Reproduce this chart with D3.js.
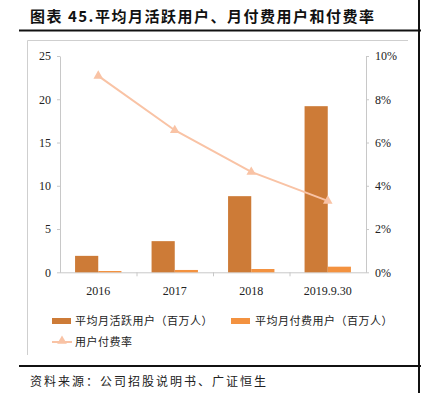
<!DOCTYPE html>
<html>
<head>
<meta charset="utf-8">
<script src="https://cdn.jsdelivr.net/npm/d3@7"></script>
<style>
  body { margin: 0; background: #fff; }
  svg { display: block; }
  .axis text { font-family: "Liberation Serif", "Times New Roman", serif; font-size: 12px; fill: #222; }
  .axis path, .axis line { stroke: #c8c8c8; }
  .cjk { font-family: "Noto Sans CJK SC", sans-serif; }
</style>
</head>
<body>
<div id="chart"></div>
<script>
// data
var categories = ["2016", "2017", "2018", "2019.9.30"];
var activeUsers = [1.9, 3.6, 8.8, 19.2];      // 平均月活跃用户（百万人）
var payingUsers = [0.15, 0.27, 0.38, 0.65];   // 平均月付费用户（百万人）
var payRate = [0.0908, 0.0657, 0.0464, 0.033]; // 用户付费率
var leftTicks = [0, 5, 10, 15, 20, 25];
var rightTicks = [0, 0.02, 0.04, 0.06, 0.08, 0.10];

var W = 422, H = 393;
var darkColor = "#cd7b37",
  lightColor = "#f39240",
  lineColor = "#f9c3a5";

var svg = d3.select("#chart").append("svg")
  .attr("width", W)
  .attr("height", H);

// title + rules
svg.append("text")
  .attr("class", "cjk")
  .attr("x", 30)
  .attr("y", 22)
  .attr("font-size", 15)
  .attr("font-weight", "bold")
  .attr("letter-spacing", 1.5)
  .attr("fill", "#111")
  .text("图表 45.平均月活跃用户、月付费用户和付费率");

svg.append("line").attr("x1", 19).attr("x2", 421).attr("y1", 30.5).attr("y2", 30.5)
  .attr("stroke", "#111").attr("stroke-width", 2);
svg.append("line").attr("x1", 19).attr("x2", 421).attr("y1", 366).attr("y2", 366)
  .attr("stroke", "#111").attr("stroke-width", 2);
svg.append("line").attr("x1", 419).attr("x2", 419).attr("y1", 0).attr("y2", H)
  .attr("stroke", "#111").attr("stroke-width", 2);

// chart frame
svg.append("path")
  .attr("d", "M27.5,355 V40.5 H408")
  .attr("fill", "none")
  .attr("stroke", "#cfcfcf");

var plot = { left: 60, right: 366, top: 56, bottom: 272.3 };

var x = d3.scaleBand()
  .domain(categories)
  .range([plot.left, plot.right]);

var x1 = d3.scaleBand()
  .domain(["active", "paying"])
  .range([0, x.bandwidth()])
  .paddingOuter(0.65)
  .paddingInner(0);

var yL = d3.scaleLinear().domain([0, 25]).range([plot.bottom, plot.top]);
var yR = d3.scaleLinear().domain([0, 0.10]).range([plot.bottom, plot.top]);

// axes
svg.append("g")
  .attr("class", "axis")
  .attr("transform", "translate(" + plot.left + ",0)")
  .call(d3.axisLeft(yL).tickValues(leftTicks).tickSize(3).tickSizeOuter(0).tickPadding(6));

svg.append("g")
  .attr("class", "axis")
  .attr("transform", "translate(" + plot.right + ",0)")
  .call(d3.axisRight(yR).tickValues(rightTicks).tickFormat(d3.format(".0%")).tickSize(3).tickSizeOuter(0).tickPadding(6));

var xAxis = d3.axisBottom(x).tickSize(0).tickPadding(14);
var gX = svg.append("g")
  .attr("class", "axis")
  .attr("transform", "translate(0," + plot.bottom + ")")
  .call(xAxis);
gX.select(".domain").attr("d", "M" + plot.left + ",0.5H" + plot.right);

// tick marks between categories
gX.selectAll(".sep")
  .data(categories.slice(1))
  .enter()
  .append("line")
  .attr("x1", function(d) { return x(d) + 0.5; })
  .attr("x2", function(d) { return x(d) + 0.5; })
  .attr("y1", 0)
  .attr("y2", 4)
  .attr("stroke", "#c8c8c8");

// bars
var groups = svg.selectAll(".grp")
  .data(categories)
  .enter()
  .append("g")
  .attr("transform", function(d) { return "translate(" + x(d) + ",0)"; });

groups.append("rect")
  .attr("x", x1("active"))
  .attr("y", function(d, i) { return yL(activeUsers[i]); })
  .attr("width", x1.bandwidth())
  .attr("height", function(d, i) { return plot.bottom - yL(activeUsers[i]); })
  .attr("fill", darkColor);

groups.append("rect")
  .attr("x", x1("paying"))
  .attr("y", function(d, i) { return yL(payingUsers[i]); })
  .attr("width", x1.bandwidth())
  .attr("height", function(d, i) { return plot.bottom - yL(payingUsers[i]); })
  .attr("fill", lightColor);

// pay rate line
var cx = function(d, i) { return x(categories[i]) + x.bandwidth() / 2; };
var line = d3.line()
  .x(cx)
  .y(function(d) { return yR(d); });

svg.append("path")
  .datum(payRate)
  .attr("d", line)
  .attr("fill", "none")
  .attr("stroke", lineColor)
  .attr("stroke-width", 2);

var tri = d3.symbol().type(d3.symbolTriangle).size(40);
svg.selectAll(".mk")
  .data(payRate)
  .enter()
  .append("path")
  .attr("d", tri)
  .attr("transform", function(d, i) { return "translate(" + cx(d, i) + "," + yR(d) + ")"; })
  .attr("fill", lineColor);

// legend
var legend = svg.append("g").attr("class", "cjk").attr("font-size", 11)
  .attr("letter-spacing", 0.5).attr("fill", "#222");

legend.append("rect").attr("x", 52).attr("y", 318).attr("width", 19).attr("height", 6).attr("fill", darkColor);
legend.append("text").attr("x", 75).attr("y", 325).text("平均月活跃用户（百万人）");

legend.append("rect").attr("x", 231).attr("y", 318).attr("width", 19).attr("height", 6).attr("fill", lightColor);
legend.append("text").attr("x", 255).attr("y", 325).text("平均月付费用户（百万人）");

legend.append("line").attr("x1", 52).attr("x2", 72).attr("y1", 342).attr("y2", 342)
  .attr("stroke", lineColor).attr("stroke-width", 2);
legend.append("path").attr("d", tri).attr("transform", "translate(62,341)").attr("fill", lineColor);
legend.append("text").attr("x", 75).attr("y", 346).text("用户付费率");

// source
svg.append("text")
  .attr("class", "cjk")
  .attr("x", 30)
  .attr("y", 386)
  .attr("font-size", 12)
  .attr("letter-spacing", 2)
  .attr("fill", "#222")
  .text("资料来源：公司招股说明书、广证恒生");
</script>
</body>
</html>
